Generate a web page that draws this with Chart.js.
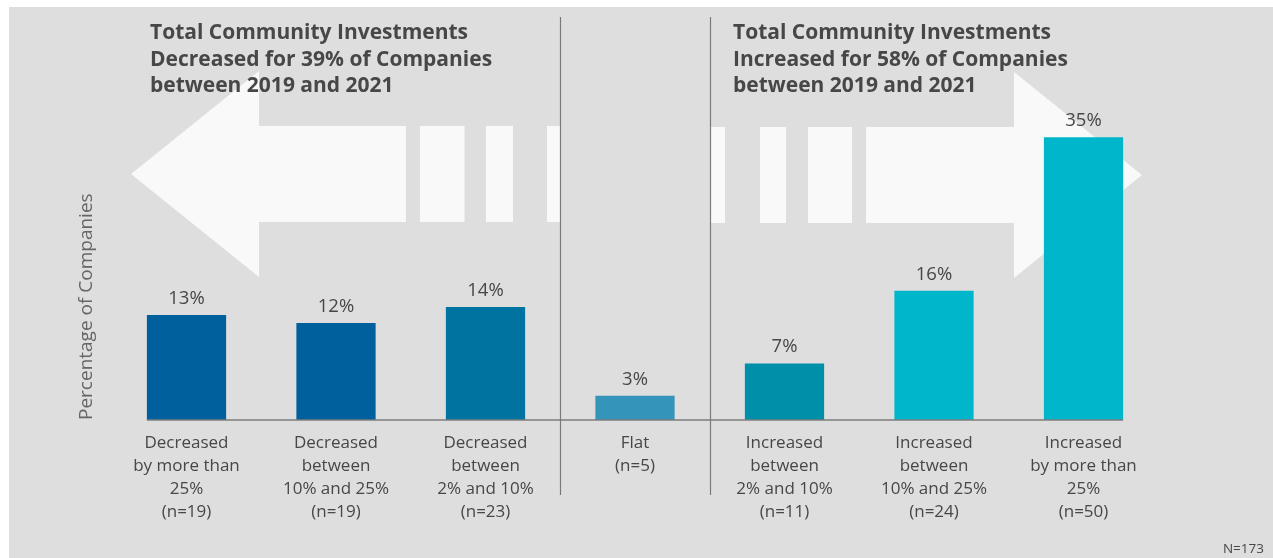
<!DOCTYPE html>
<html>
<head>
<meta charset="utf-8">
<title>Total Community Investments 2019-2021</title>
<script src="https://cdn.jsdelivr.net/npm/chart.js@4.4.0/dist/chart.umd.min.js"></script>
<style>
  html, body { margin:0; padding:0; background:#fff; }
  #wrap { position:relative; width:1273px; height:558px; }
</style>
</head>
<body>
<div id="wrap"><canvas id="chart"></canvas></div>
<script>
// ---------- Data ----------
const categories = [
  ['Decreased', 'by more than', '25%', '(n=19)'],
  ['Decreased', 'between', '10% and 25%', '(n=19)'],
  ['Decreased', 'between', '2% and 10%', '(n=23)'],
  ['Flat', '(n=5)'],
  ['Increased', 'between', '2% and 10%', '(n=11)'],
  ['Increased', 'between', '10% and 25%', '(n=24)'],
  ['Increased', 'by more than', '25%', '(n=50)']
];
const shares = [13, 12, 14, 3, 7, 16, 35];
const barColors = ['#005f9d', '#005f9d', '#0073a0', '#3494b9', '#008fa9', '#00b6ca', '#00b6ca'];

const leftTitle  = ['Total Community Investments', 'Decreased for 39% of Companies', 'between 2019 and 2021'];
const rightTitle = ['Total Community Investments', 'Increased for 58% of Companies', 'between 2019 and 2021'];
const yTitle = 'Percentage of Companies';
const sampleNote = 'N=173';

// ---------- Styling ----------
const FONT = "'Open Sans', 'Noto Sans', sans-serif";
const TEXT = '#474747';
const PANEL = '#dedede';
const ARROW = '#f9f9f9';

// ---------- Helpers ----------
function rect(ctx, x0, x1, y0, y1){ ctx.fillRect(x0, y0, x1 - x0, y1 - y0); }

function drawLeftArrow(ctx){
  ctx.beginPath();
  ctx.moveTo(131, 174);
  ctx.lineTo(259, 71);
  ctx.lineTo(259, 126);
  ctx.lineTo(406, 126);
  ctx.lineTo(406, 222);
  ctx.lineTo(259, 222);
  ctx.lineTo(259, 277);
  ctx.closePath();
  ctx.fill();
  rect(ctx, 420, 464.5, 126, 222);
  rect(ctx, 486, 513, 126, 222);
  rect(ctx, 547, 561, 126, 222);
}

function drawRightArrow(ctx){
  rect(ctx, 711, 725, 127, 223);
  rect(ctx, 760, 786, 127, 223);
  rect(ctx, 808, 852, 127, 223);
  ctx.beginPath();
  ctx.moveTo(866, 127);
  ctx.lineTo(1014, 127);
  ctx.lineTo(1014, 72);
  ctx.lineTo(1142, 175);
  ctx.lineTo(1014, 278);
  ctx.lineTo(1014, 223);
  ctx.lineTo(866, 223);
  ctx.closePath();
  ctx.fill();
}

function drawTitle(ctx, lines, x){
  ctx.font = `bold 21px ${FONT}`;
  ctx.fillStyle = TEXT;
  ctx.textAlign = 'left';
  ctx.textBaseline = 'alphabetic';
  lines.forEach((line, i) => ctx.fillText(line, x, 39 + i * 26.5));
}

// ---------- Plugins ----------
const backdrop = {
  id: 'backdrop',
  beforeDraw(chart){
    const {ctx, width, height} = chart;
    ctx.save();
    ctx.fillStyle = '#ffffff';
    ctx.fillRect(0, 0, width, height);
    ctx.fillStyle = PANEL;
    ctx.fillRect(9, 7, width - 9, height - 7);
    ctx.restore();
  },
  beforeDatasetsDraw(chart){
    const {ctx} = chart;
    ctx.save();
    ctx.fillStyle = ARROW;
    drawLeftArrow(ctx);
    drawRightArrow(ctx);
    ctx.restore();
  }
};

const overlay = {
  id: 'overlay',
  afterDatasetsDraw(chart){
    const {ctx, scales:{x, y}} = chart;
    const bars = chart.getDatasetMeta(0).data;
    const base = y.getPixelForValue(0);
    ctx.save();

    // baseline under the bars
    ctx.strokeStyle = '#7d7d7d';
    ctx.lineWidth = 1.5;
    ctx.beginPath();
    ctx.moveTo(bars[0].x - bars[0].width / 2, base);
    ctx.lineTo(bars[bars.length - 1].x + bars[bars.length - 1].width / 2, base);
    ctx.stroke();

    // dividers around the "Flat" group
    ctx.strokeStyle = '#7a7a7a';
    ctx.lineWidth = 1.2;
    [2.5, 3.5].forEach(v => {
      const px = Math.round(x.getPixelForValue(v)) + 0.5;
      ctx.beginPath();
      ctx.moveTo(px, 17);
      ctx.lineTo(px, 495);
      ctx.stroke();
    });

    // value labels
    ctx.fillStyle = TEXT;
    ctx.font = `18.5px ${FONT}`;
    ctx.textAlign = 'center';
    ctx.textBaseline = 'alphabetic';
    bars.forEach((bar, i) => ctx.fillText(shares[i] + '%', bar.x, bar.y - 11));

    // section titles
    drawTitle(ctx, leftTitle, 150);
    drawTitle(ctx, rightTitle, 733);

    // sample size
    ctx.font = `13.5px ${FONT}`;
    ctx.textAlign = 'right';
    ctx.fillStyle = TEXT;
    ctx.fillText(sampleNote, 1264, 553);

    ctx.restore();
  }
};

// ---------- Chart ----------
Chart.defaults.font.family = FONT;
Chart.defaults.animation = false;

new Chart(document.getElementById('chart'), {
  type: 'bar',
  data: {
    labels: categories,
    datasets: [{
      data: shares,
      backgroundColor: barColors,
      borderWidth: 0,
      categoryPercentage: 1,
      barPercentage: 0.53
    }]
  },
  options: {
    responsive: true,
    maintainAspectRatio: false,
    layout: { padding: { top: 16, right: 114.75, bottom: 0, left: 0 } },
    plugins: { legend: { display: false }, tooltip: { enabled: false } },
    scales: {
      x: {
        grid: { display: false, drawTicks: false },
        border: { display: false },
        ticks: {
          color: TEXT,
          font: { size: 17, lineHeight: 1.35 },
          padding: 12,
          maxRotation: 0,
          autoSkip: false
        },
        afterFit(s){ s.height = 138; }
      },
      y: {
        min: 0,
        max: 50,
        grid: { display: false, drawTicks: false },
        border: { display: false },
        ticks: { display: false },
        title: {
          display: true,
          text: yTitle,
          align: 'start',
          color: '#666666',
          font: { size: 19 },
          padding: { top: 75.5, bottom: 0 }
        },
        afterFit(s){ s.width = 111.75; }
      }
    }
  },
  plugins: [backdrop, overlay]
});
</script>
</body>
</html>
